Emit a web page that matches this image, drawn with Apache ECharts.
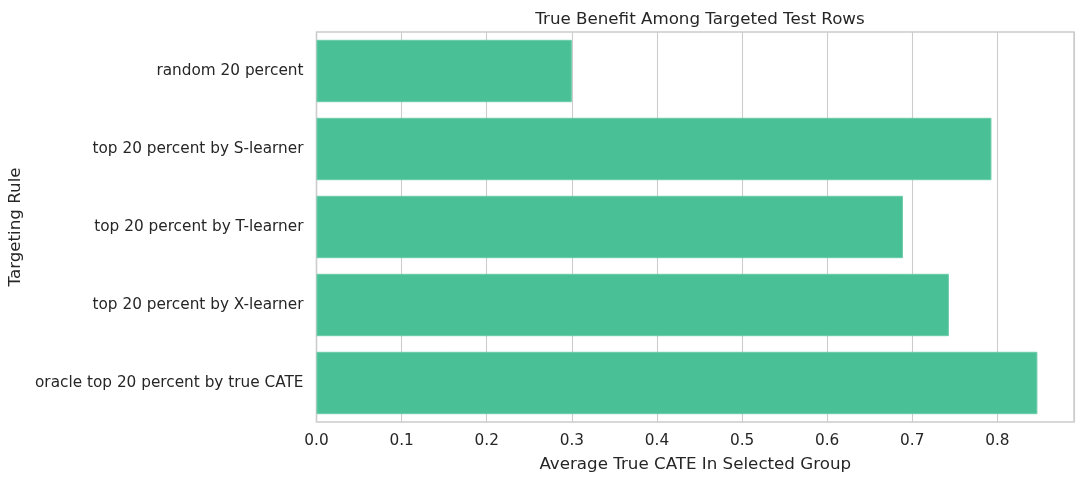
<!DOCTYPE html>
<html>
<head>
<meta charset="utf-8">
<script src="https://cdn.jsdelivr.net/npm/echarts@6/dist/echarts.min.js"></script>
<style>
html,body{margin:0;padding:0;background:#fff;}
#chart{width:1084px;height:484px;}
</style>
</head>
<body>
<div id="chart"></div>
<script>
const categories = [
  "random 20 percent",
  "top 20 percent by S-learner",
  "top 20 percent by T-learner",
  "top 20 percent by X-learner",
  "oracle top 20 percent by true CATE"
];
const values = [0.300, 0.793, 0.689, 0.743, 0.847];
const titleText = "True Benefit Among Targeted Test Rows";
const xAxisTitle = "Average True CATE In Selected Group";
const yAxisTitle = "Targeting Rule";

const font = "DejaVu Sans";
const chart = echarts.init(document.getElementById('chart'), null, {renderer: 'canvas'});
chart.setOption({
  animation: false,
  backgroundColor: '#ffffff',
  title: {
    text: titleText,
    left: 695, top: 6, textAlign: 'center',
    textStyle: {fontFamily: font, fontSize: 16.7, fontWeight: 'normal', color: '#262626'}
  },
  grid: {
    left: 316.5, right: 10, top: 32, bottom: 62,
    outerBoundsMode: 'none', containLabel: false,
    show: true, borderColor: '#cccccc', borderWidth: 1.5, backgroundColor: '#ffffff'
  },
  xAxis: {
    type: 'value', min: 0, max: 0.89, interval: 0.1,
    name: xAxisTitle, nameLocation: 'middle', nameGap: 34,
    nameTextStyle: {fontFamily: font, fontSize: 16.7, color: '#262626'},
    axisLine: {show: false}, axisTick: {show: false},
    axisLabel: {
      fontFamily: font, fontSize: 15.3, color: '#262626', margin: 12,
      showMaxLabel: false,
      formatter: v => (Math.abs(v * 10 - Math.round(v * 10)) < 1e-6) ? v.toFixed(1) : ''
    },
    splitLine: {show: true, lineStyle: {color: '#cccccc', width: 1.1}}
  },
  yAxis: {
    type: 'category', data: categories, inverse: true,
    name: yAxisTitle, nameLocation: 'middle', nameGap: 287, nameRotate: 90,
    nameTextStyle: {fontFamily: font, fontSize: 16.7, color: '#262626'},
    axisLine: {show: false}, axisTick: {show: false},
    axisLabel: {fontFamily: font, fontSize: 15.3, color: '#262626', margin: 13},
    splitLine: {show: false}
  },
  series: [{
    type: 'bar', data: values, barCategoryGap: '20%',
    itemStyle: {color: '#4ac096', borderColor: '#6ccca8', borderWidth: 1}
  }]
});
</script>
</body>
</html>
